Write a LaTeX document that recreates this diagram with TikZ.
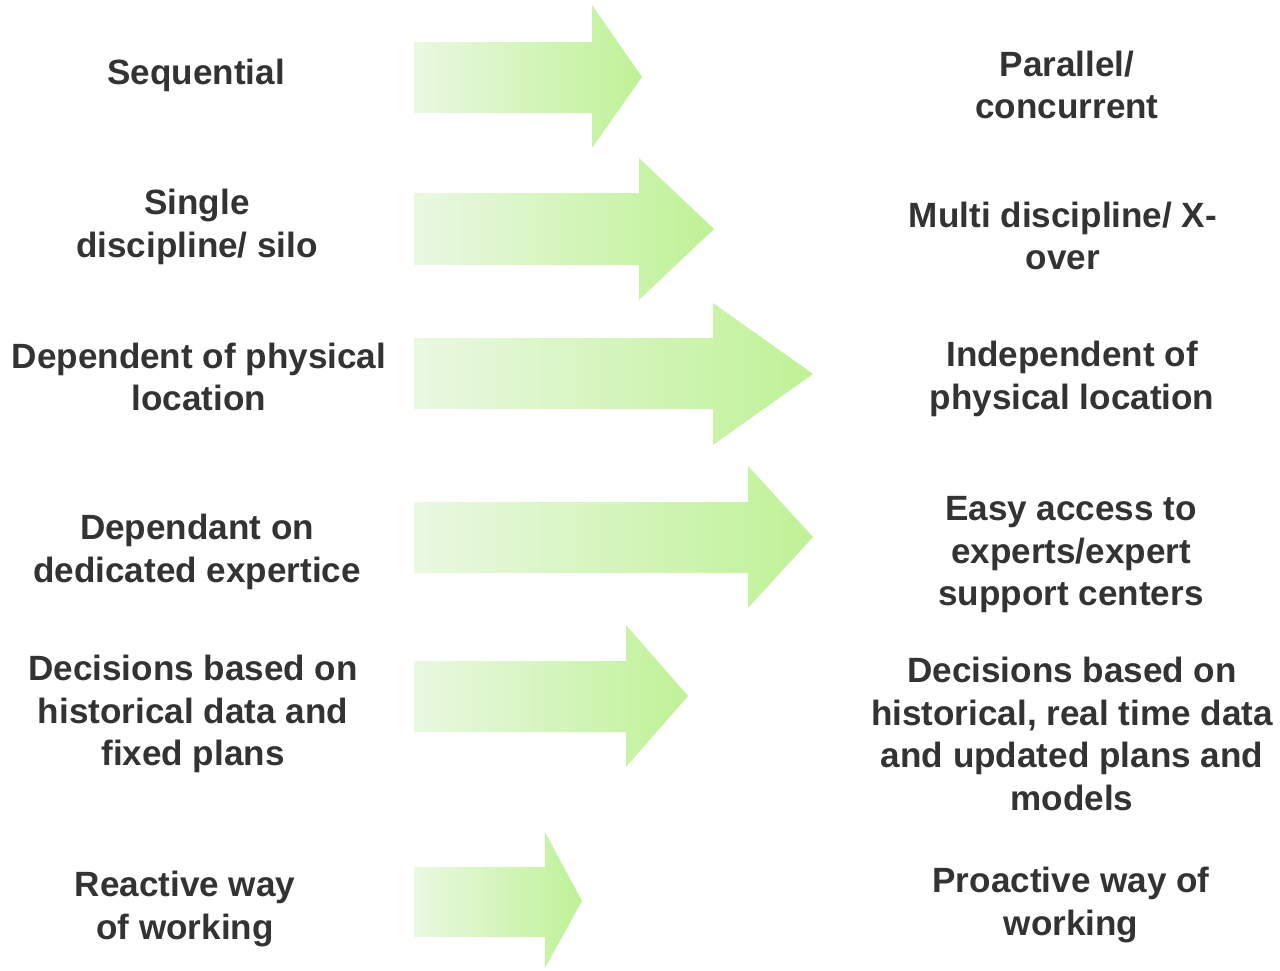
\documentclass[tikz,border=0pt]{standalone}
\usepackage{fontspec}
\setmainfont{Liberation Sans}
\definecolor{txt}{HTML}{333333}
\definecolor{arrL}{HTML}{EAF8E2}
\definecolor{arrR}{HTML}{BFF296}
\begin{document}
\begin{tikzpicture}[x=1pt,y=-1pt,
  lbl/.style={align=center,text=txt,inner sep=0pt,font=\bfseries\fontsize{35.1}{42.5}\selectfont},
  fatarrow/.style={left color=arrL,right color=arrR,draw=none}]
\useasboundingbox (0,0) rectangle (1280,970);
\fill[white] (0,0) rectangle (1280,970);
% arrows: shaft left, shaft top, shaft bottom, head x, head top, head bottom, tip x, tip y
\newcommand{\fatarr}[8]{%
  \path[fatarrow] (#1,#2) -- (#4,#2) -- (#4,#5) -- (#7,#8) -- (#4,#6) -- (#4,#3) -- (#1,#3) -- cycle;}
\fatarr{414}{42}{113}{592}{5}{148}{642}{77}
\fatarr{414}{193}{265}{639}{158}{300}{714}{229}
\fatarr{414}{338}{409}{713}{303}{445}{813}{374}
\fatarr{414}{502}{573}{748}{466}{608}{813}{537}
\fatarr{414}{661}{732}{626}{625}{767}{688}{696}
\fatarr{414}{867}{937}{545}{832}{968}{582}{901}
% left labels
\node[lbl] (l1) at (196,75) {Sequential};
\node[lbl] (l2) at (197,227) {Single\\discipline/ silo};
\node[lbl] (l3) at (199,377) {Dependent of physical\\location};
\node[lbl] (l4) at (197,552) {Dependant on\\dedicated expertice};
\node[lbl] (l5) at (193,714) {Decisions based on\\historical data and\\fixed plans};
\node[lbl] (l6) at (185,909) {Reactive way\\of working};
% right labels
\node[lbl] (r1) at (1067,85) {Parallel/\\concurrent};
\node[lbl] (r2) at (1063,236) {Multi discipline/ X-\\over};
\node[lbl] (r3) at (1072,379) {Independent of\\physical location};
\node[lbl] (r4) at (1071,555) {Easy access to\\experts/expert\\support centers};
\node[lbl] (r5) at (1072,734) {Decisions based on\\historical, real time data\\and updated plans and\\models};
\node[lbl] (r6) at (1071,905) {Proactive way of\\working};
\end{tikzpicture}
\end{document}
